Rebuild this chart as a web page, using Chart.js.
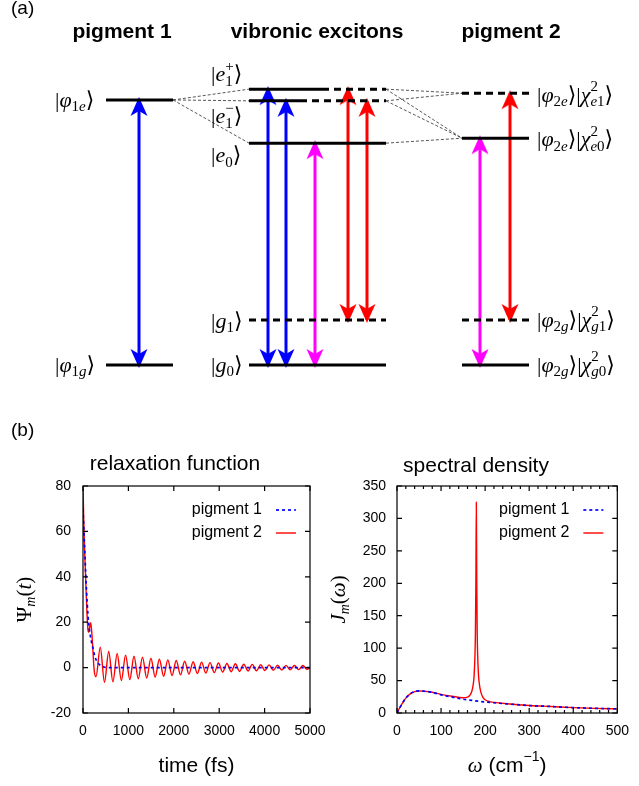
<!DOCTYPE html>
<html>
<head>
<meta charset="utf-8">
<script src="https://cdn.jsdelivr.net/npm/chart.js@4.4.1/dist/chart.umd.min.js"></script>
<style>
  body { margin: 0; background: #fff; }
  #fig { position: relative; width: 639px; height: 786px; }
  canvas { position: absolute; }
</style>
</head>
<body>
<div id="fig">
  <canvas id="levels" width="639" height="400" style="left:0px;top:0px"></canvas>
  <canvas id="relax" width="340" height="366" style="left:0px;top:420px"></canvas>
  <canvas id="spec" width="319" height="366" style="left:320px;top:420px"></canvas>
</div>
<script>
const SANS = "'Liberation Sans', Arial, Helvetica, sans-serif";
const SERIF = "'Liberation Serif', 'DejaVu Serif', 'DejaVu Sans', serif";

// ---- (a) level scheme: energies in units of the vibrational quantum, g0 = 0
const levelE   = [5.89, 0, 6.13, 6.13, 5.87, 5.87, 4.93, 1, 0, 6.04, 5.04, 1, 0];
const levelX0  = [106, 106, 249, 322, 249, 300, 249, 249, 249, 462, 462, 462, 462];
const levelX1  = [173, 173, 322, 386, 300, 386, 386, 386, 386, 529, 529, 529, 529];
const levelVib = [0, 0, 0, 1, 0, 1, 0, 1, 0, 1, 0, 1, 0];   // 1 = vibrationally excited part

// mixing lines between monomer states and exciton states
const linkX0 = [173, 173, 173, 386, 386, 386, 386, 386];
const linkE0 = [5.89, 5.89, 5.89, 6.13, 5.87, 6.13, 5.87, 4.93];
const linkX1 = [249, 249, 249, 462, 462, 462, 462, 462];
const linkE1 = [6.13, 5.87, 4.93, 6.04, 6.04, 5.04, 5.04, 5.04];

// optical transitions
const arrowX    = [139, 268, 286, 315, 348, 367, 480, 510];
const arrowLo   = [0, 0, 0, 0, 1, 1, 0, 1];
const arrowHi   = [5.89, 6.13, 5.87, 4.93, 6.13, 5.87, 5.04, 6.04];
const arrowKind = ['p1', 'p1', 'p1', 'p2', 'vib', 'vib', 'p2', 'vib'];

const columnTitles = ['pigment 1', 'vibronic excitons', 'pigment 2'];
const columnX = [122, 317, 511];

const BAR = ['r', '|'], KET = ['r', '⟩'];
const stateLabels = [
  [BAR, ['i', 'φ'], ['rs', '1'], ['is', 'e'], KET],
  [BAR, ['i', 'φ'], ['rs', '1'], ['is', 'g'], KET],
  [BAR, ['i', 'e'], ['stack', [['rp', '+']], [['rs', '1']]], KET],
  [BAR, ['i', 'e'], ['stack', [['rp', '−']], [['rs', '1']]], KET],
  [BAR, ['i', 'e'], ['rs', '0'], KET],
  [BAR, ['i', 'g'], ['rs', '1'], KET],
  [BAR, ['i', 'g'], ['rs', '0'], KET],
  [BAR, ['i', 'φ'], ['rs', '2'], ['is', 'e'], KET, BAR, ['i', 'χ'], ['stack', [['rp', '2']], [['is', 'e'], ['rs', '1']]], KET],
  [BAR, ['i', 'φ'], ['rs', '2'], ['is', 'e'], KET, BAR, ['i', 'χ'], ['stack', [['rp', '2']], [['is', 'e'], ['rs', '0']]], KET],
  [BAR, ['i', 'φ'], ['rs', '2'], ['is', 'g'], KET, BAR, ['i', 'χ'], ['stack', [['rp', '2']], [['is', 'g'], ['rs', '1']]], KET],
  [BAR, ['i', 'φ'], ['rs', '2'], ['is', 'g'], KET, BAR, ['i', 'χ'], ['stack', [['rp', '2']], [['is', 'g'], ['rs', '0']]], KET]
];
const stateLabelX = [55, 55, 211, 211, 211, 211, 211, 537, 537, 537, 537];
const stateLabelE = [5.87, -0.02, 6.44, 5.51, 4.64, 0.96, -0.02, 5.98, 5.0, 0.98, -0.02];

// ---- (b) relaxation function (fs, arb.)
const tauP1   = [0, 20, 40, 60, 80, 110, 140, 180, 220, 260, 300, 340, 400, 450, 520, 5000];
const relaxP1 = [70, 60, 51, 41, 33, 23, 17, 12, 8.5, 5, 3, 1.8, 0.7, 0.3, 0, 0];
const tauP2   = [0, 15, 30, 50, 70, 90, 110, 125, 145, 170, 195, 220, 245, 287,
                 380, 473, 566, 659, 752, 845, 938, 1031, 1124, 1217, 1310, 1403,
                 1496, 1589, 1682, 1775, 1868, 1961, 2054, 2147, 2240, 2333, 2426, 2519,
                 2612, 2705, 2798, 2891, 2984, 3077, 3170, 3263, 3356, 3449, 3542, 3635,
                 3728, 3821, 3914, 4007, 4100, 4193, 4286, 4379, 4472, 4565, 4658, 4751,
                 4844, 4937, 5000];
const relaxP2 = [80, 66, 55, 44, 33, 23, 16.5, 15.5, 17.5, 19.8, 15, 7, -1, -4.0,
                 9.0, -6.5, 7.1, -6.3, 6.2, -5.7, 5.5, -5.3, 5.0, -4.9, 4.6, -4.6,
                 4.1, -4.2, 3.7, -3.8, 3.4, -3.5, 3.1, -3.2, 2.8, -2.9, 2.6, -2.6,
                 2.4, -2.4, 2.2, -2.2, 2.0, -2.0, 1.8, -1.8, 1.7, -1.7, 1.5, -1.5,
                 1.4, -1.4, 1.3, -1.3, 1.2, -1.2, 1.1, -1.1, 1.0, -1.0, 0.9, -0.9,
                 0.9, -0.8, 0];

// ---- (b) spectral density (cm^-1, cm^-1)
const wP1    = [0, 5, 10, 20, 30, 40, 50, 60, 70, 80, 100, 125, 150, 175, 200, 250, 300, 350, 400, 450, 500];
const specP1 = [0, 6.5, 12.5, 23, 29.5, 33, 34, 33.8, 33, 31.8, 28, 24.5, 21.3, 19, 17, 14, 11.5, 10, 8.3, 7.2, 6.4];
const wP2    = [0, 5, 10, 20, 30, 40, 50, 60, 70, 80, 100, 125, 150, 160, 165, 170, 173, 175, 177, 178, 179, 180,
                181, 182, 183, 185, 187, 190, 195, 200, 210, 225, 250, 300, 350, 400, 450, 500];
const specP2 = [0, 6.5, 12.5, 23, 29.5, 33, 34, 33.8, 33, 32, 28.8, 25.8, 23.5, 24.5, 27, 34, 44, 58, 90, 125, 200, 325,
                200, 125, 90, 58, 44, 33, 24, 20.5, 17.5, 16, 14.2, 11.6, 10, 8.3, 7.2, 6.4];

Chart.defaults.font.family = SANS;
Chart.defaults.color = '#000';

function runFont(k, size) {
  const sm = Math.round(size * 0.68);
  if (k === 'r') return [size + 'px ' + SERIF, 0];
  if (k === 'i') return ['italic ' + size + 'px ' + SERIF, 0];
  if (k === 'rs') return [sm + 'px ' + SERIF, size * 0.3];
  if (k === 'is') return ['italic ' + sm + 'px ' + SERIF, size * 0.3];
  if (k === 'rp') return [sm + 'px ' + SERIF, -size * 0.38];
  if (k === 's') return [size + 'px ' + SANS, 0];
  if (k === 'sp') return [sm + 'px ' + SANS, -size * 0.4];
}

function drawRuns(ctx, runs, x, y, size, dry) {
  ctx.textAlign = 'left';
  ctx.textBaseline = 'middle';
  runs.forEach(r => {
    if (r[0] === 'stack') {
      const a = drawRuns(ctx, r[1], x, y, size, dry);
      const b = drawRuns(ctx, r[2], x, y, size, dry);
      x = Math.max(a, b);
    } else {
      const f = runFont(r[0], size);
      ctx.font = f[0];
      if (!dry) ctx.fillText(r[1], x, y + f[1]);
      x += ctx.measureText(r[1]).width;
    }
  });
  return x;
}

function arrowHead(color) {
  const c = document.createElement('canvas');
  c.width = 18; c.height = 40;
  const g = c.getContext('2d');
  g.fillStyle = color;
  g.beginPath();
  g.moveTo(9, 17); g.lineTo(17.5, 36); g.lineTo(9, 31); g.lineTo(0.5, 36);
  g.closePath(); g.fill();
  return c;
}
const kindColor = { p1: '#0000ff', p2: '#ff00ff', vib: '#ff0000' };
const heads = { p1: arrowHead('#0000ff'), p2: arrowHead('#ff00ff'), vib: arrowHead('#ff0000') };

// ---------- (a)
const levelSets = levelE.map((e, i) => ({
  data: [{ x: levelX0[i], y: e }, { x: levelX1[i], y: e }],
  borderColor: '#000', borderWidth: 3, borderDash: levelVib[i] ? [7, 5] : [],
  pointRadius: 0
}));
const arrowSets = arrowX.map((ax, i) => ({
  data: [{ x: ax, y: arrowLo[i] }, { x: ax, y: arrowHi[i] }],
  borderColor: kindColor[arrowKind[i]], borderWidth: 3,
  pointStyle: heads[arrowKind[i]], pointRotation: [180, 0], pointRadius: 4
}));
const linkSets = linkX0.map((lx, i) => ({
  data: [{ x: lx, y: linkE0[i] }, { x: linkX1[i], y: linkE1[i] }],
  borderColor: '#444', borderWidth: 0.9, borderDash: [3, 2], pointRadius: 0
}));

const scheme = {
  id: 'scheme',
  afterDraw(chart) {
    const { ctx, scales: { x, y } } = chart;
    ctx.save();
    ctx.fillStyle = '#000';
    ctx.textBaseline = 'alphabetic';
    ctx.textAlign = 'left';
    ctx.font = '19px ' + SANS;
    ctx.fillText('(a)', 11, 14);
    ctx.font = 'bold 21px ' + SANS;
    ctx.textAlign = 'center';
    columnTitles.forEach((t, i) => ctx.fillText(t, x.getPixelForValue(columnX[i]), 38));
    stateLabels.forEach((runs, i) =>
      drawRuns(ctx, runs, x.getPixelForValue(stateLabelX[i]), y.getPixelForValue(stateLabelE[i]), 22));
    ctx.restore();
  }
};

new Chart(document.getElementById('levels'), {
  type: 'line',
  data: { datasets: levelSets.concat(arrowSets, linkSets) },
  options: {
    responsive: false, animation: false, devicePixelRatio: 1, events: [],
    layout: { padding: 0, autoPadding: false },
    plugins: { legend: { display: false }, tooltip: { enabled: false } },
    scales: {
      x: { type: 'linear', min: 0, max: 639, display: false },
      y: { type: 'linear', min: -0.7778, max: 8.1111, display: false }
    }
  },
  plugins: [scheme]
});

// ---------- (b)
const frame = {
  id: 'frame',
  afterDraw(chart, args, o) {
    const { ctx, chartArea: a, scales: { x, y } } = chart;
    ctx.save();
    ctx.strokeStyle = '#000';
    ctx.lineWidth = 1.2;
    ctx.strokeRect(a.left, a.top, a.right - a.left, a.bottom - a.top);
    ctx.beginPath();
    x.ticks.forEach(t => {
      const px = x.getPixelForValue(t.value);
      ctx.moveTo(px, a.bottom); ctx.lineTo(px, a.bottom - 5);
      ctx.moveTo(px, a.top); ctx.lineTo(px, a.top + 5);
    });
    y.ticks.forEach(t => {
      const py = y.getPixelForValue(t.value);
      ctx.moveTo(a.left, py); ctx.lineTo(a.left + 5, py);
      ctx.moveTo(a.right, py); ctx.lineTo(a.right - 5, py);
    });
    if (o.xMinor) {
      for (let v = x.min; v <= x.max; v += o.xMinor) {
        const px = x.getPixelForValue(v);
        ctx.moveTo(px, a.bottom); ctx.lineTo(px, a.bottom - 3);
        ctx.moveTo(px, a.top); ctx.lineTo(px, a.top + 3);
      }
    }
    ctx.stroke();
    ctx.restore();
  }
};

const deco = {
  id: 'deco',
  afterDraw(chart, args, o) {
    const { ctx, chartArea: a } = chart;
    ctx.save();
    ctx.fillStyle = '#000';
    if (o.tag) {
      ctx.font = '19px ' + SANS;
      ctx.textAlign = 'left';
      ctx.textBaseline = 'alphabetic';
      ctx.fillText(o.tag, 11, 16);
    }
    ctx.font = '21px ' + SANS;
    ctx.textAlign = 'center';
    ctx.textBaseline = 'alphabetic';
    ctx.fillText(o.title, a.left + o.titleDx, a.top - o.titleDy);

    const wx = drawRuns(ctx, o.xTitle, 0, 0, 21, true);
    drawRuns(ctx, o.xTitle, (a.left + a.right) / 2 - wx / 2, a.bottom + 53, 21);

    ctx.save();
    ctx.translate(a.left - 58, (a.top + a.bottom) / 2);
    ctx.rotate(-Math.PI / 2);
    const wy = drawRuns(ctx, o.yTitle, 0, 0, 21, true);
    drawRuns(ctx, o.yTitle, -wy / 2, 0, 21);
    ctx.restore();

    // key, gnuplot style: text then sample
    chart.data.datasets.forEach((ds, i) => {
      const yy = a.top + 24 + 23 * i;
      ctx.font = '16px ' + SANS;
      ctx.textAlign = 'right';
      ctx.textBaseline = 'middle';
      ctx.fillStyle = '#000';
      ctx.fillText(ds.label, a.right - 48, yy);
      ctx.beginPath();
      ctx.strokeStyle = ds.borderColor;
      ctx.lineWidth = ds.borderWidth;
      ctx.setLineDash(ds.borderDash || []);
      ctx.moveTo(a.right - 34, yy);
      ctx.lineTo(a.right - 14, yy);
      ctx.stroke();
    });
    ctx.restore();
  }
};

function axis(min, max, step, pad, fitH, fitW) {
  return {
    type: 'linear', min: min, max: max,
    ticks: { stepSize: step, padding: pad, font: { size: 14 }, color: '#000', maxRotation: 0, autoSkip: false,
             callback: v => String(v) },
    grid: { display: false, drawTicks: false },
    border: { display: false },
    afterFit: s => { if (fitH) s.height = fitH; if (fitW) s.width = fitW; }
  };
}

new Chart(document.getElementById('relax'), {
  type: 'line',
  data: {
    datasets: [
      { label: 'pigment 1', data: tauP1.map((t, i) => ({ x: t, y: relaxP1[i] })),
        borderColor: '#0000ff', borderWidth: 1.7, borderDash: [3, 3], pointRadius: 0, cubicInterpolationMode: 'monotone' },
      { label: 'pigment 2', data: tauP2.map((t, i) => ({ x: t, y: relaxP2[i] })),
        borderColor: '#ff0000', borderWidth: 1.4, pointRadius: 0, cubicInterpolationMode: 'monotone' }
    ]
  },
  options: {
    responsive: false, animation: false, devicePixelRatio: 1, events: [],
    layout: { padding: { left: 23, right: 30, top: 66, bottom: 33 }, autoPadding: false },
    plugins: {
      legend: { display: false }, tooltip: { enabled: false },
      frame: {},
      deco: { tag: '(b)', title: 'relaxation function', titleDx: 92, titleDy: 16,
              xTitle: [['s', 'time (fs)']],
              yTitle: [['r', 'Ψ'], ['is', 'm'], ['r', '('], ['i', 't'], ['r', ')']] }
    },
    scales: {
      x: axis(0, 5000, 1000, 10, 40, 0),
      y: axis(-20, 80, 20, 12, 0, 60)
    }
  },
  plugins: [frame, deco]
});

new Chart(document.getElementById('spec'), {
  type: 'line',
  data: {
    datasets: [
      { label: 'pigment 1', data: wP1.map((w, i) => ({ x: w, y: specP1[i] })),
        borderColor: '#0000ff', borderWidth: 1.7, borderDash: [3, 3], pointRadius: 0, cubicInterpolationMode: 'monotone' },
      { label: 'pigment 2', data: wP2.map((w, i) => ({ x: w, y: specP2[i] })),
        borderColor: '#ff0000', borderWidth: 1.4, pointRadius: 0, cubicInterpolationMode: 'monotone' }
    ]
  },
  options: {
    responsive: false, animation: false, devicePixelRatio: 1, events: [],
    layout: { padding: { left: 17, right: 16, top: 66, bottom: 33 }, autoPadding: false },
    plugins: {
      legend: { display: false }, tooltip: { enabled: false },
      frame: { xMinor: 20 },
      deco: { title: 'spectral density', titleDx: 79, titleDy: 14,
              xTitle: [['i', 'ω'], ['s', ' (cm'], ['sp', '−1'], ['s', ')']],
              yTitle: [['i', 'J'], ['is', 'm'], ['r', '('], ['i', 'ω'], ['r', ')']] }
    },
    scales: {
      x: axis(0, 500, 100, 10, 40, 0),
      y: axis(0, 350, 50, 11, 0, 60)
    }
  },
  plugins: [frame, deco]
});
</script>
</body>
</html>
